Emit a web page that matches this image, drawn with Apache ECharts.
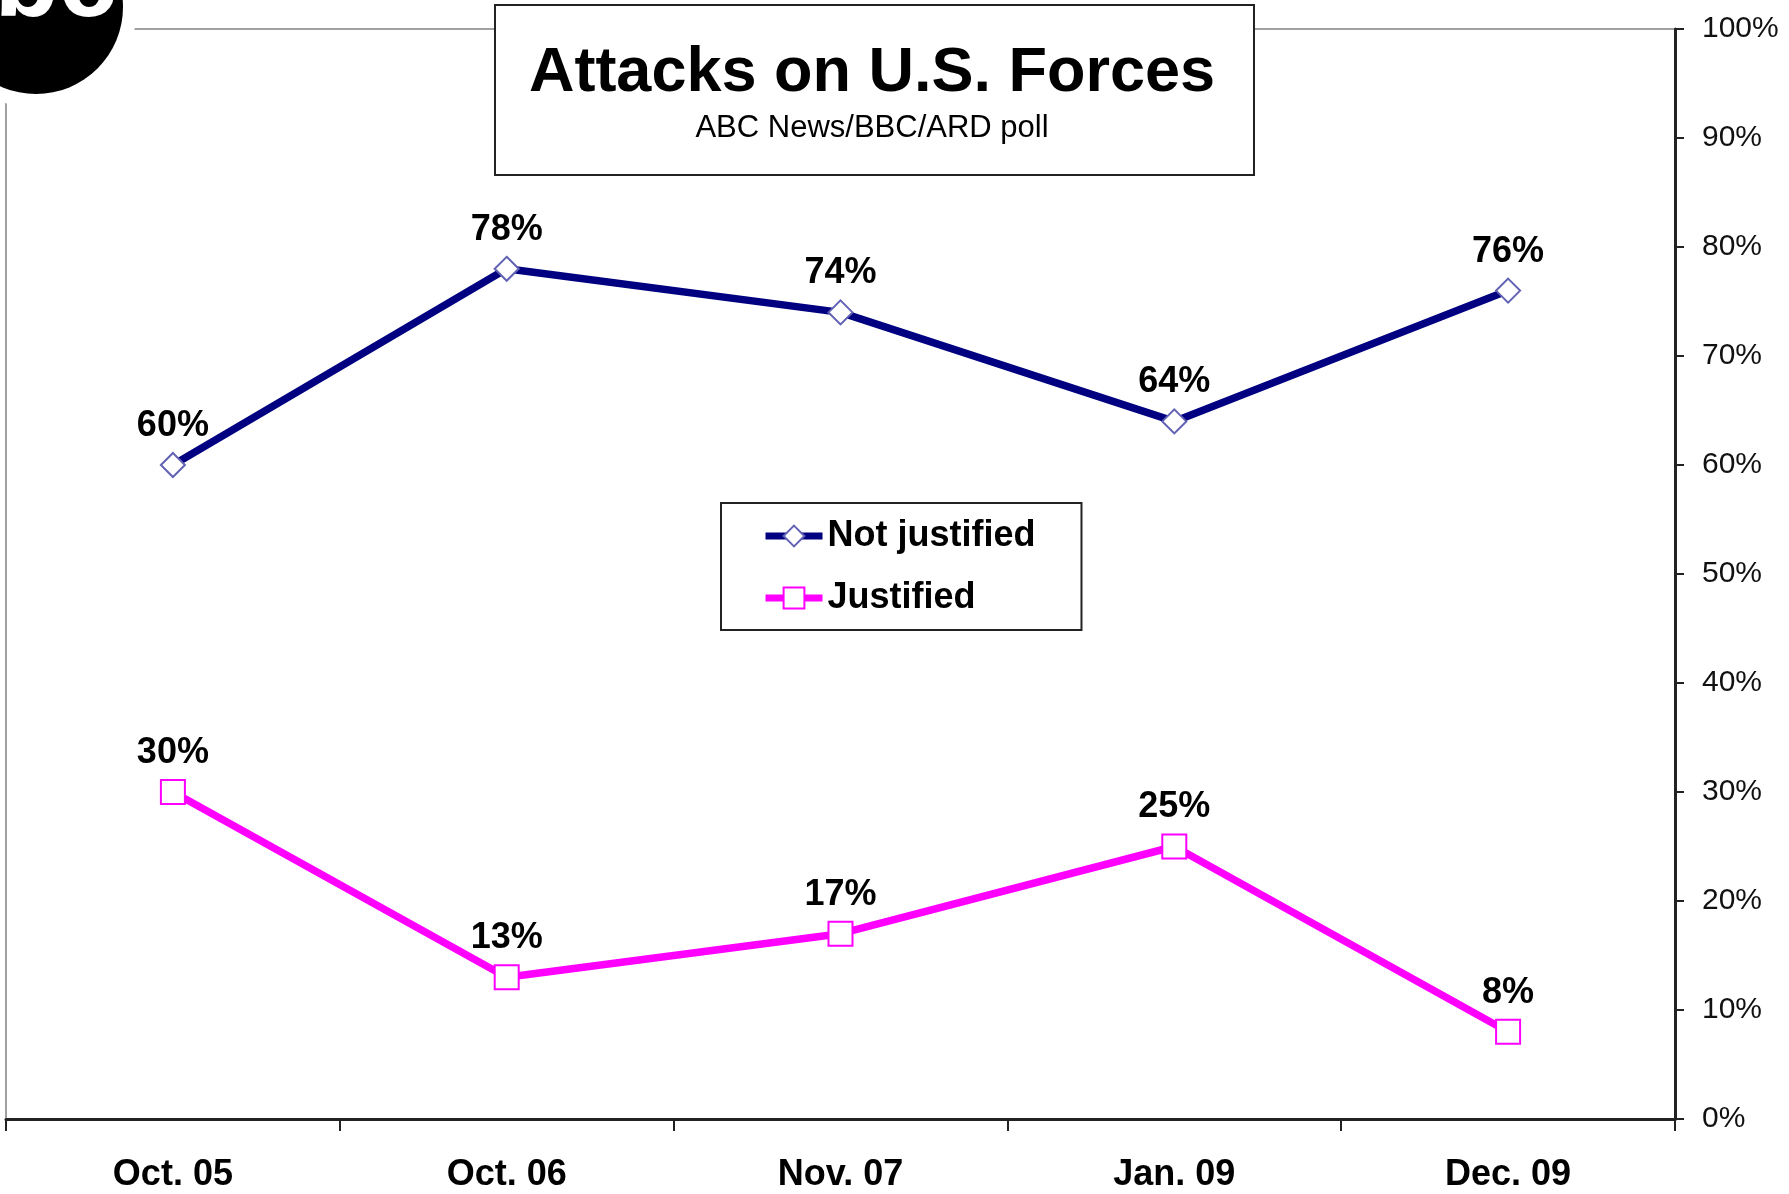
<!DOCTYPE html>
<html lang="en">
<head>
    <meta charset="UTF-8">
    <title>Attacks on U.S. Forces</title>
    <script src="https://cdn.jsdelivr.net/npm/echarts@6.0.0/dist/echarts.min.js"></script>
    <style>
        html, body { margin: 0; padding: 0; background: #fff; }
        #main { width: 1789px; height: 1194px; }
    </style>
</head>
<body>
    <div id="main"></div>
    <script>
        // data
        const categories = ['Oct. 05', 'Oct. 06', 'Nov. 07', 'Jan. 09', 'Dec. 09'];
        const notJustified = [60, 78, 74, 64, 76];
        const justified = [30, 13, 17, 25, 8];

        const font = '"Liberation Sans", Arial, sans-serif';
        const chart = echarts.init(document.getElementById('main'));

        const option = {
            animation: false,
            backgroundColor: '#fff',
            textStyle: { fontFamily: font },
            legend: {
                orient: 'vertical',
                left: 721,
                top: 503,
                padding: [13, 46, 12, 41],
                itemWidth: 57,
                itemHeight: 26,
                itemGap: 22,
                itemTextGap: 3,
                borderColor: '#222',
                borderWidth: 2,
                backgroundColor: '#fff',
                lineStyle: { width: 7 },
                textStyle: { fontFamily: font, fontSize: 36, fontWeight: 'bold', color: '#000', lineHeight: 40 },
                data: ['Not justified', 'Justified']
            },
            grid: {
                left: 6,
                right: 114,
                top: 29,
                bottom: 75,
                show: true,
                borderColor: '#a0a0a0',
                borderWidth: 2
            },
            xAxis: {
                type: 'category',
                data: categories,
                boundaryGap: true,
                axisLine: { lineStyle: { color: '#222', width: 3 } },
                axisTick: { show: true, length: 12, lineStyle: { color: '#222', width: 2 } },
                axisLabel: { margin: 38, fontFamily: font, fontSize: 36, fontWeight: 'bold', color: '#000' },
                splitLine: { show: false }
            },
            yAxis: {
                type: 'value',
                position: 'right',
                min: 0,
                max: 100,
                interval: 10,
                axisLine: { show: true, lineStyle: { color: '#222', width: 3 } },
                axisTick: { show: true, length: 9, lineStyle: { color: '#222', width: 2 } },
                axisLabel: { margin: 27, formatter: '{value}%', fontFamily: font, fontSize: 30, color: '#111' },
                splitLine: { show: false }
            },
            series: [
                {
                    name: 'Not justified',
                    type: 'line',
                    data: notJustified,
                    symbol: 'diamond',
                    symbolSize: 24,
                    showAllSymbol: true,
                    lineStyle: { color: '#000080', width: 7.5 },
                    itemStyle: { color: '#fff', borderColor: '#6262b4', borderWidth: 2 },
                    label: {
                        show: true,
                        position: 'top',
                        distance: 8,
                        formatter: '{c}%',
                        fontFamily: font,
                        fontSize: 36,
                        fontWeight: 'bold',
                        color: '#000'
                    },
                    z: 3
                },
                {
                    name: 'Justified',
                    type: 'line',
                    data: justified,
                    symbol: 'rect',
                    symbolSize: 24,
                    showAllSymbol: true,
                    lineStyle: { color: '#ff00ff', width: 7.5 },
                    itemStyle: { color: '#fff', borderColor: '#ff00ff', borderWidth: 2 },
                    label: {
                        show: true,
                        position: 'top',
                        distance: 8,
                        formatter: '{c}%',
                        fontFamily: font,
                        fontSize: 36,
                        fontWeight: 'bold',
                        color: '#000'
                    },
                    z: 3
                }
            ],
            graphic: [
                // title box
                {
                    type: 'rect', z: 10,
                    shape: { x: 495, y: 5, width: 759, height: 170 },
                    style: { fill: '#fff', stroke: '#222', lineWidth: 2 }
                },
                {
                    type: 'text', z: 11,
                    style: {
                        x: 872, y: 74, text: 'Attacks on U.S. Forces',
                        font: 'bold 63px ' + font, fill: '#000',
                        textAlign: 'center', textVerticalAlign: 'middle'
                    }
                },
                {
                    type: 'text', z: 11,
                    style: {
                        x: 872, y: 128, text: 'ABC News/BBC/ARD poll',
                        font: '31px ' + font, fill: '#000',
                        textAlign: 'center', textVerticalAlign: 'middle'
                    }
                },
                // abc logo in the corner
                { type: 'circle', z: 20, shape: { cx: 36, cy: 7, r: 101 }, style: { fill: '#fff' } },
                { type: 'circle', z: 21, shape: { cx: 36, cy: 7, r: 87 }, style: { fill: '#000' } },
                {
                    type: 'text', z: 22,
                    style: {
                        x: 117, y: 40, text: 'abc', fill: '#fff',
                        font: 'bold 105px ' + font,
                        textAlign: 'right', textVerticalAlign: 'bottom'
                    }
                }
            ]
        };

        chart.setOption(option);
    </script>
</body>
</html>
